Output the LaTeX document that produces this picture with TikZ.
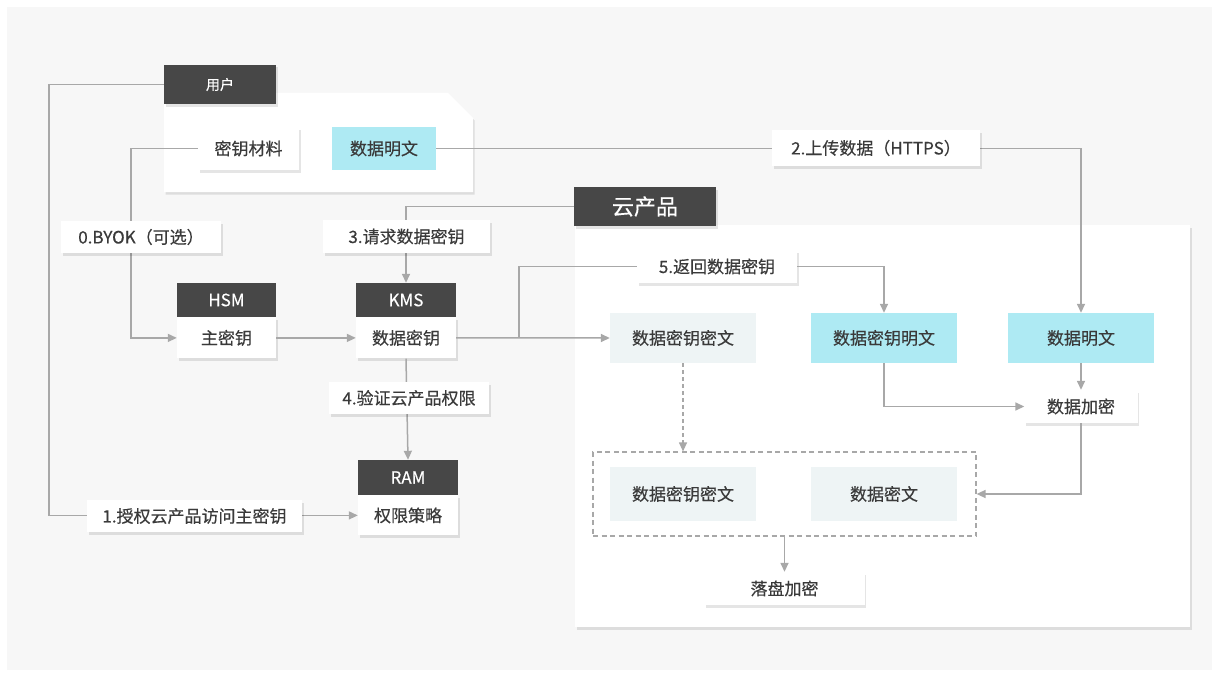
\documentclass[tikz,border=0pt]{standalone}
\usepackage{fontspec}
\setmainfont[FakeBold=0.4]{Noto Sans CJK SC}
\usetikzlibrary{arrows.meta,shadows,calc}
\definecolor{bgc}{HTML}{F7F7F7}
\definecolor{darkc}{HTML}{474747}
\definecolor{cyanc}{HTML}{AEEAF3}
\definecolor{palec}{HTML}{EEF4F5}
\definecolor{lnc}{HTML}{A8A8A8}
\definecolor{txtc}{HTML}{3A3A3A}
\begin{document}
\begin{tikzpicture}[x=1pt,y=-1pt,
  sh/.style={drop shadow={shadow xshift=1.5pt,shadow yshift=-2.5pt,opacity=0.10,fill=black}},
  basebox/.style={rectangle,inner sep=0pt,text=txtc,font=\fontsize{17}{20}\selectfont},
  wbox/.style={basebox,fill=white,sh},
  cbox/.style={basebox,fill=cyanc},
  pbox/.style={basebox,fill=palec},
  hdr/.style={rectangle,inner sep=0pt,fill=darkc,text=white,font=\fontsize{17}{20}\selectfont},
  lbl/.style={basebox,fill=white,sh},
  conn/.style={draw=lnc,line width=1.5pt},
  arr/.style={conn,-{Triangle[length=9pt,width=8pt]}},
  darr/.style={draw=lnc,line width=1.2pt,dashed,dash pattern=on 4pt off 3pt,-{Triangle[length=9pt,width=8pt]}}
]
\useasboundingbox (0,0) rectangle (1219,677);
\fill[white] (0,0) rectangle (1219,677);
\fill[bgc] (7,7) rectangle (1212,670);

% panels
\path[fill=white,sh] (164,93) -- (448,93) -- (473,118) -- (473,192) -- (164,192) -- cycle;
\path[fill=white,sh] (575,225) rectangle (1190,627);

% headers
\node[hdr,sh,minimum width=112pt,minimum height=39pt,font=\fontsize{14}{16}\selectfont] (user) at (220,84.5) {用户};
\node[hdr,sh,minimum width=142pt,minimum height=39pt,font=\fontsize{22}{26}\selectfont] (cloud) at (645,206.5) {云产品};

% user panel boxes
\node[wbox,minimum width=101pt,minimum height=43pt] (mat) at (248.5,148.5) {密钥材料};
\node[cbox,minimum width=104pt,minimum height=43pt] (pt) at (384,148.5) {数据明文};

% HSM / KMS / RAM
\node[hdr,minimum width=99pt,minimum height=34pt] (hsmh) at (226.5,300) {HSM};
\node[wbox,minimum width=99pt,minimum height=41pt,anchor=north] (mk) at (hsmh.south) {主密钥};
\node[hdr,minimum width=100pt,minimum height=34pt] (kmsh) at (406,300) {KMS};
\node[wbox,minimum width=100pt,minimum height=41pt,anchor=north] (dk) at (kmsh.south) {数据密钥};
\node[hdr,minimum width=100pt,minimum height=35pt] (ramh) at (408,477.5) {RAM};
\node[wbox,minimum width=100pt,minimum height=40pt,anchor=north] (pol) at (ramh.south) {权限策略};

% cloud product boxes
\node[pbox,minimum width=146pt,minimum height=50pt] (dkc) at (683,338) {数据密钥密文};
\node[cbox,minimum width=146pt,minimum height=50pt] (dkp) at (884,338) {数据密钥明文};
\node[cbox,minimum width=146pt,minimum height=50pt] (dp) at (1081,338) {数据明文};
\node[wbox,minimum width=113pt,minimum height=33pt] (enc) at (1081,406.5) {数据加密};
\node[draw=lnc,line width=1.2pt,dash pattern=on 5pt off 3.5pt,minimum width=383pt,minimum height=84pt,inner sep=0pt] (dbox) at (784.5,494) {};
\node[pbox,minimum width=146pt,minimum height=54pt] (dkc2) at (683,494) {数据密钥密文};
\node[pbox,minimum width=146pt,minimum height=54pt] (dc) at (884,494) {数据密文};
\node[wbox,minimum width=160pt,minimum height=33pt] (disk) at (784.5,588.5) {落盘加密};

% connectors
\draw[arr] (user.west) -- ++(-115,0) |- (pol.west);
\draw[arr] (mat.west) -- ++(-67,0) |- (mk.west);
\draw[arr] (pt.east) -| (dp.north);
\draw[arr] (cloud.west) -| (kmsh.north);
\draw[arr] (mk.east) -- (dk.west);
\draw[arr] (dk.east) -- (dkc.west);
\coordinate (j5) at (519,337.5);
\node[lbl,minimum width=160pt,minimum height=33pt] (ret) at (717,266.5) {5.返回数据密钥};
\draw[conn] (j5) |- (ret.west);
\draw[arr] (ret.east) -| (dkp.north);
\draw[arr] (dk.south) -- (ramh.north);
\draw[arr] (dp.south) -- (enc.north);
\draw[arr] (dkp.south) |- (enc.west);
\draw[arr] (enc.south) |- (dbox.east);
\draw[darr] (dkc.south) -- (dkc.south |- dbox.north);
\draw[arr] (dbox.south) -- (disk.north);

% line labels
\node[lbl,minimum width=208pt,minimum height=36pt] (up) at (876,148) {2.上传数据（HTTPS）};
\node[lbl,minimum width=160pt,minimum height=32pt] (byok) at (141,237) {0.BYOK（可选）};
\node[lbl,minimum width=167pt,minimum height=33pt] (req) at (406.5,236.5) {3.请求数据密钥};
\node[lbl,minimum width=160pt,minimum height=32pt] (ver) at (409,398) {4.验证云产品权限};
\node[lbl,minimum width=215pt,minimum height=32pt] (auth) at (194.5,516) {1.授权云产品访问主密钥};
\end{tikzpicture}
\end{document}
